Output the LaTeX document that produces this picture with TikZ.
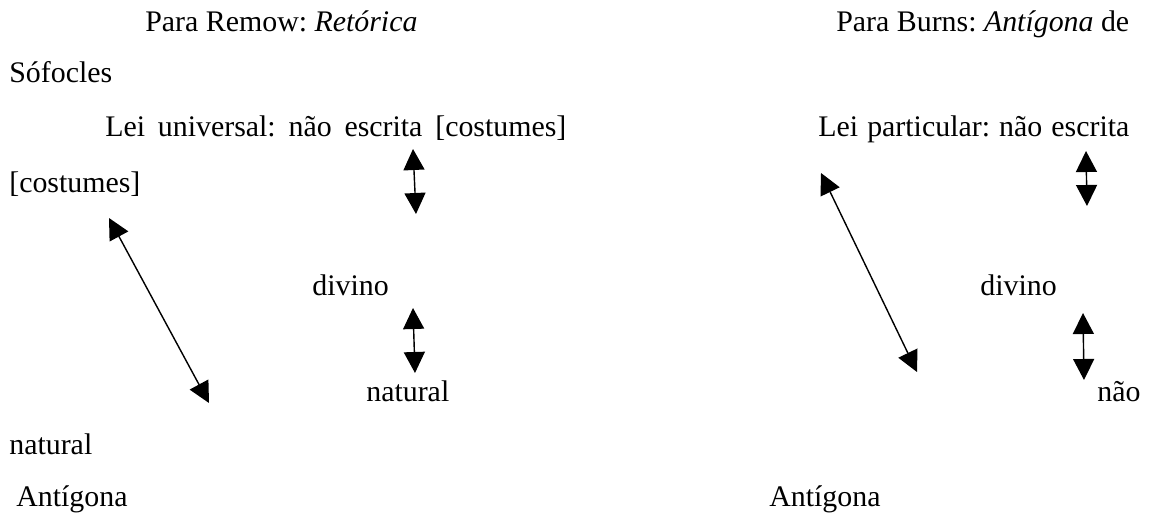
\documentclass[tikz,border=0pt]{standalone}
\usepackage{fontspec}
\setmainfont{Liberation Serif}
\usepackage{tikz}
\usetikzlibrary{arrows.meta}
\frenchspacing

\begin{document}
\begin{tikzpicture}[font=\fontsize{17}{20}\selectfont, >={Triangle[length=0.42cm, width=0.42cm]},
  txt/.style={anchor=base west, inner sep=0pt}, link/.style={<->, line width=0.8pt}]
\useasboundingbox (0,0) rectangle (23,10.24);
% coluna da esquerda
\node[txt] (remow) at (2.90,9.60) {Para Remow: \textit{Retórica}};
\node[txt] (sofocles) at (0.18,8.58) {Sófocles};
\node[txt] (leiuni) at (2.10,7.50) {\makebox[9.22cm][s]{Lei universal: não escrita [costumes]}};
\node[txt] (costumes) at (0.18,6.40) {[costumes]};
\node[txt] (divinoL) at (6.24,4.34) {divino};
\node[txt] (naturalM) at (7.32,2.22) {natural};
\node[txt] (naturalL) at (0.18,1.16) {natural};
\node[txt] (antL) at (0.32,0.12) {Antígona};
% coluna da direita
\node[txt] (burns) at (16.72,9.60) {Para Burns: \textit{Antígona} de};
\node[txt] (leipart) at (16.36,7.50) {\makebox[6.22cm][s]{Lei particular: não escrita}};
\node[txt] (divinoR) at (19.60,4.34) {divino};
\node[txt] (nao) at (21.94,2.22) {não};
\node[txt] (antR) at (15.38,0.12) {Antígona};
% pontas das setas
\coordinate (a1t) at (8.26,7.26);  \coordinate (a1b) at (8.32,5.96);
\coordinate (a2t) at (8.26,4.08);  \coordinate (a2b) at (8.30,2.78);
\coordinate (dLt) at (2.18,5.88);  \coordinate (dLb) at (4.18,2.18);
\coordinate (b1t) at (21.72,7.22); \coordinate (b1b) at (21.74,6.12);
\coordinate (b2t) at (21.66,3.98); \coordinate (b2b) at (21.68,2.64);
\coordinate (dRt) at (16.42,6.78); \coordinate (dRb) at (18.34,2.80);
\draw[link] (a1t) -- (a1b);
\draw[link] (a2t) -- (a2b);
\draw[link] (dLt) -- (dLb);
\draw[link] (b1t) -- (b1b);
\draw[link] (b2t) -- (b2b);
\draw[link] (dRt) -- (dRb);
\end{tikzpicture}
\end{document}
